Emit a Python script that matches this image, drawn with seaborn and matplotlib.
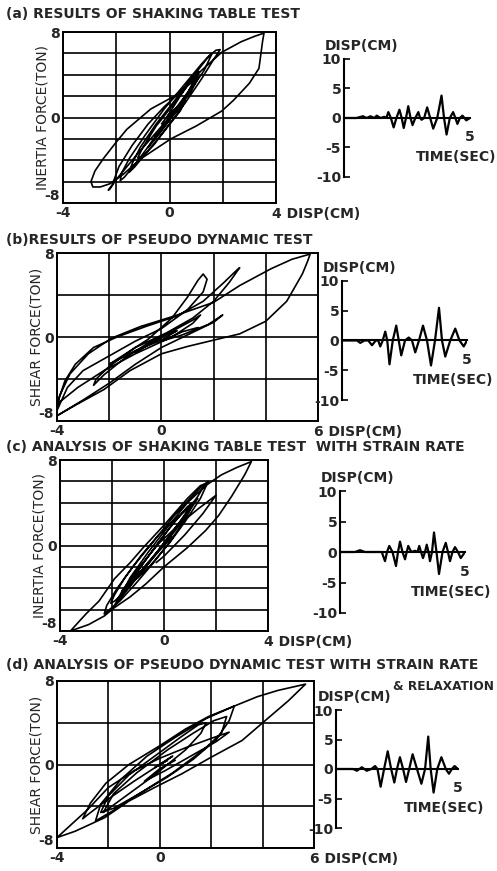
import numpy as np
import seaborn as sns
import matplotlib.pyplot as plt

sns.set_style("white")
plt.rcParams['font.family'] = ['DejaVu Sans']
plt.rcParams['font.weight'] = 'bold'

W, H = 497, 871

# ---- hysteresis loops (disp in cm, force in ton) ----
A_DISP = [0.0, 0.3, 0.0, -0.3, -0.1, 0.4, 0.6,
          0.4, -0.3, -0.9, -1.3, -1.5, -1.4, -1.1, -0.5, 0.2, 0.8, 1.1,
          1.0, 0.6, 0.0, -0.7, -1.3, -1.7, -1.85, -1.8, -1.5, -0.9, -0.2, 0.6, 1.2, 1.5, 1.75, 1.9,
          1.6, 1.2, 0.6, 0.0, -0.6, -1.0, -1.2, -1.0, -0.5, 0.2, 0.8, 1.0,
          0.7, 0.1, -0.1, 0.4, 1.0, 1.4, 1.6,
          1.3, 0.8, 0.2, -0.5, -1.2, -1.7, -2.0, -2.24, -2.3,
          -2.15, -1.9, -1.4, -0.8, -0.2, 0.5, 1.2, 1.96, 2.7, 3.2, 3.55,
          3.5, 3.36, 3.0, 2.4, 1.96, 1.0, 0.05, -1.1, -1.73, -2.24, -2.6, -2.88, -2.95,
          -2.8, -2.5, -2.0, -1.6, -0.7, 0.18, 0.8, 1.1,
          0.8, 0.2, -0.4, -0.8, -0.5, 0.0, 0.3, 0.1]
A_FORCE = [0.0, 0.9, 0.4, -0.6, -0.4, 0.9, 1.6,
           0.6, -1.6, -3.4, -4.6, -5.1, -4.3, -2.8, -0.6, 1.6, 3.6, 4.3,
           3.6, 2.0, -0.2, -2.4, -4.4, -5.6, -5.9, -5.2, -3.8, -1.6, 0.8, 3.2, 5.0, 5.8, 6.3, 6.35,
           5.2, 3.6, 1.4, -0.6, -2.6, -3.6, -3.8, -2.8, -0.8, 1.4, 3.4, 3.8,
           2.4, 0.4, 0.0, 2.0, 4.2, 5.5, 6.0,
           4.4, 2.6, 0.6, -1.4, -3.4, -4.9, -5.8, -6.7, -6.8,
           -6.3, -4.6, -2.6, -0.6, 1.0, 2.6, 4.4, 6.1, 7.1, 7.6, 7.9,
           7.2, 4.6, 3.2, 1.6, 0.6, -0.8, -2.0, -3.9, -5.3, -6.2, -6.5, -6.5, -6.0,
           -5.0, -3.9, -2.3, -1.1, 0.8, 2.0, 3.2, 3.8,
           2.4, 0.4, -1.6, -2.8, -1.6, 0.0, 1.0, 0.5]

B_DISP = [0.0, -0.4, 0.0, -0.9, -0.5, -1.0, -0.2, 0.6, 1.2, 1.5, 1.2, 0.4, -1.0, -2.2, -3.2,
          -4.0, -3.7, -3.3, -2.6, -1.7, -0.6, 0.6, 1.6, 2.4, 2.9, 3.0, 2.6, 2.0, 1.2, 0.2, -1.0,
          -2.0, -2.5, -2.6, -2.2, -1.4, -0.4, 0.4, 0.6, 0.0, -1.0, -2.0, -1.5, -0.5, 0.4, 1.0,
          1.4, 1.6, 1.75, 1.6, 1.0, 0.0, -1.0, -2.0, -3.0, -3.6, -4.0, -3.9, -3.5, -2.8, -1.9,
          -0.8, 0.5, 2.0, 3.0, 4.2, 5.0, 5.7, 5.6, 5.4, 4.8, 4.0, 3.0, 2.0, 1.0, 0.0, -1.2,
          -2.2, -3.3, -4.0, -3.0, -2.0, -1.0, 0.0, 1.0, 2.0, 2.35, 1.8, 0.8, 0.0, 0.8, 1.4]
B_FORCE = [0.0, -0.6, -0.1, -1.3, -0.7, -1.5, -0.2, 0.8, 1.6, 2.1, 1.3, 0.0, -1.6, -3.2, -4.8,
           -6.4, -4.2, -2.6, -1.0, 0.0, 1.0, 2.0, 3.4, 5.2, 6.4, 6.6, 5.2, 3.4, 1.8, 0.4, -1.0,
           -2.8, -4.0, -4.6, -3.6, -2.0, -0.4, 0.4, 0.6, -0.3, -1.3, -2.6, -1.8, -0.2, 1.8, 3.8,
           5.4, 6.0, 5.5, 4.3, 2.6, 0.8, -0.4, -1.8, -3.2, -4.8, -7.0, -5.6, -3.5, -1.6, -0.1,
           1.0, 2.0, 3.3, 4.9, 6.5, 7.4, 7.9, 7.2, 6.0, 3.4, 1.5, 0.3, -0.3, -0.9, -1.6, -3.2,
           -5.0, -6.5, -7.5, -6.0, -4.4, -2.6, -1.0, 0.2, 1.4, 2.1, 1.2, 0.2, -0.4, 0.5, 0.9]

C_DISP = [0.0, 0.2, -0.1, 0.3, 0.0,
          -0.5, -1.0, -1.5, -1.9, -2.05, -1.9, -1.5, -0.9, -0.2, 0.4, 0.9, 1.05,
          0.8, 0.3, -0.4, -1.1, -1.7, -2.1, -2.3, -2.2, -1.8, -1.2, -0.4, 0.4, 1.0, 1.4, 1.7,
          1.4, 0.8, 0.2, -0.5, -1.0, -1.2, -0.9, -0.3, 0.4, 0.9, 1.1,
          0.8, 0.5, -0.2, -0.9, -1.4, -1.6, -1.2, -0.6, 0.2, 0.9, 1.3,
          0.8, 0.0, -0.8, -1.4, -1.6,
          -1.3, -0.6, 0.1, 0.9, 1.6, 2.2, 2.8, 3.36,
          3.1, 2.6, 2.1, 1.6, 0.9, 0.0, -0.7, -1.3, -1.9, -2.3, -2.9, -3.6,
          -3.0, -2.5, -1.9, -1.3, -0.8, 0.0, 0.9, 1.4, 1.6,
          1.3, 0.6, -0.2, -0.9, -1.5, -1.9,
          -1.6, -1.0, -0.2, 0.6, 1.3, 2.0,
          1.5, 0.8, 0.0, -0.3]
C_FORCE = [0.0, 0.6, -0.2, 0.8, 0.2,
           -1.4, -2.9, -4.3, -5.2, -5.4, -4.6, -3.0, -1.0, 1.0, 2.4, 3.4, 3.6,
           2.4, 0.6, -1.6, -3.6, -5.2, -6.0, -6.4, -5.6, -4.0, -2.0, 0.4, 2.8, 4.4, 5.4, 6.0,
           4.4, 2.2, 0.2, -1.8, -3.0, -3.3, -2.0, 0.0, 2.2, 3.6, 4.0,
           2.8, 1.8, -0.4, -2.4, -3.8, -4.2, -3.0, -1.0, 1.6, 3.6, 4.4,
           2.6, 0.0, -2.2, -3.8, -4.4,
           -3.0, -0.6, 1.6, 4.0, 5.6, 6.6, 7.3, 7.85,
           6.6, 4.6, 2.8, 1.4, -0.2, -2.0, -3.6, -4.8, -5.8, -6.6, -7.4, -8.0,
           -6.4, -5.2, -3.1, -1.6, -0.2, 1.9, 4.4, 5.6, 5.8,
           4.6, 2.2, -0.4, -2.6, -4.4, -5.6,
           -4.2, -2.2, 0.2, 2.0, 3.4, 4.7,
           3.0, 1.0, -1.0, -1.6]

D_DISP = [0.0, 0.3, -0.2, 0.5, 0.0, -1.0, -2.0, -2.8, -3.0, -2.7, -2.1, -1.2, 0.0, 1.0, 1.9,
          2.9, 2.7, 2.2, 1.3, 0.3, -0.8, -1.8, -2.3, -2.0, -1.2, -0.2, 0.8, 1.5, 1.8, 1.6, 1.0,
          -0.2, -1.2, -2.2, -1.8, -0.9, 0.3, 1.3, 2.1, 2.6, 2.4, 1.7, 0.5, -0.8, -1.8, -2.5,
          -2.3, -1.5, -0.5, 0.6, 1.8, 2.9, 3.8, 4.6, 5.67, 5.0, 4.24, 3.2, 2.0, 0.85, -0.2,
          -1.2, -2.15, -3.3, -4.0, -3.6, -2.8, -2.0, -1.0, 0.0, 1.0, 2.0, 2.7, 2.2, 1.2, 0.2,
          -0.6, 0.0, 0.6]
D_FORCE = [0.0, 0.4, -0.3, 0.8, 0.0, -1.6, -3.3, -4.8, -5.2, -3.7, -1.8, 0.0, 1.8, 3.4, 4.6,
           5.6, 4.2, 2.4, 0.5, -1.2, -2.8, -4.2, -4.6, -3.0, -1.0, 0.8, 2.6, 3.8, 4.0, 3.0, 1.4,
           -1.0, -2.8, -4.6, -2.8, -0.8, 1.4, 3.0, 4.2, 4.6, 3.0, 1.4, -0.8, -2.8, -4.4, -5.4,
           -3.8, -1.4, 0.8, 2.6, 4.4, 5.6, 6.5, 7.1, 7.7, 6.1, 4.5, 2.3, 0.7, -0.9, -2.2,
           -3.5, -5.1, -6.4, -7.0, -6.1, -4.3, -2.2, -0.6, 0.6, 1.6, 2.5, 3.1, 2.2, 0.8, -0.6,
           -1.6, -0.4, 0.4]

# ---- displacement time histories (time in sec, disp in cm) ----
TA_TIME = [0, 0.5, 0.75, 0.9, 1.05, 1.2, 1.3, 1.45, 1.6, 1.68, 1.76, 1.86, 1.97, 2.08, 2.2,
           2.29, 2.37, 2.46, 2.55, 2.64, 2.72, 2.83, 2.95, 3.02, 3.08, 3.18, 3.3, 3.42, 3.54,
           3.7, 3.87, 3.97, 4.07, 4.2, 4.33, 4.42, 4.5, 4.6, 4.7, 4.78, 4.85, 5.0]
TA_DISP = [0, 0, 0.3, 0, 0.3, 0, 0.4, 0, 0.2, 0, 1.0, 0, -1.6, 0, 1.4, 0, -1.7, 0, 2.0, 0,
           -1.2, 0, 1.0, 0, -0.3, 0, 1.8, 0, -1.8, 0, 3.8, 0, -2.8, 0, 1.0, 0, -1.0, 0, 0.4, 0,
           -0.4, 0]

TB_TIME = [0, 0.4, 0.6, 0.73, 0.9, 1.05, 1.2, 1.35, 1.45, 1.53, 1.63, 1.73, 1.81, 1.9, 2.03,
           2.17, 2.27, 2.37, 2.52, 2.67, 2.8, 2.93, 3.08, 3.24, 3.4, 3.56, 3.72, 3.88, 4.0,
           4.13, 4.33, 4.53, 4.7, 4.87, 5.0]
TB_DISP = [0, 0, 0, -0.4, 0, 0, -0.8, 0, 0, -1.0, 0, 1.5, 0, -4.0, 0, 2.5, 0, -2.5, 0, 0.5,
           0, -2.0, 0, 2.5, 0, -4.2, 0, 5.5, 0, -2.7, 0, 2.0, 0, -1.0, 0]

TC_TIME = [0, 0.6, 0.8, 1.0, 1.67, 1.8, 1.88, 1.97, 2.1, 2.24, 2.32, 2.4, 2.5, 2.6, 2.67,
           2.73, 2.85, 3.0, 3.1, 3.17, 3.24, 3.32, 3.4, 3.47, 3.54, 3.6, 3.68, 3.76, 3.86,
           3.96, 4.1, 4.23, 4.32, 4.4, 4.5, 4.6, 4.72, 4.83, 5.0]
TC_DISP = [0, 0, 0.3, 0, 0, -1.5, 0, 1.0, 0, -2.3, 0, 1.7, 0, -1.2, 0, 1.0, 0, 0.2, 0, 1.0,
           0, -1.0, 0, 1.2, 0, -1.5, 0, 3.2, 0, -3.6, 0, 1.5, 0, -1.5, 0, 0.8, 0, -1.0, 0]

TD_TIME = [0, 0.7, 0.86, 0.96, 1.06, 1.16, 1.26, 1.45, 1.6, 1.7, 1.83, 1.97, 2.12, 2.26,
           2.39, 2.5, 2.62, 2.75, 2.87, 3.0, 3.14, 3.32, 3.5, 3.65, 3.78, 3.88, 4.0, 4.15,
           4.32, 4.5, 4.63, 4.75, 4.86, 5.0]
TD_DISP = [0, 0, -0.3, 0, 0.3, 0, -0.3, 0, 0.5, 0, -3.0, 0, 3.0, 0, -2.3, 0, 2.0, 0, -2.2, 0,
           2.5, 0, -2.5, 0, 5.5, 0, -4.0, 0, 2.0, 0, -0.8, 0, 0.5, 0]

TITLES = ["(a) RESULTS OF SHAKING TABLE TEST",
          "(b)RESULTS OF PSEUDO DYNAMIC TEST",
          "(c) ANALYSIS OF SHAKING TABLE TEST  WITH STRAIN RATE",
          "(d) ANALYSIS OF PSEUDO DYNAMIC TEST WITH STRAIN RATE"]
YLABELS = ["INERTIA FORCE(TON)", "SHEAR FORCE(TON)", "INERTIA FORCE(TON)", "SHEAR FORCE(TON)"]

FS = 10
fig = plt.figure(figsize=(W / 100, H / 100), dpi=100)


def box(x0, y0, x1, y1):
    return [x0 / W, 1 - y1 / H, (x1 - x0) / W, (y1 - y0) / H]


def draw_loop(rect, disp, force, xmax, ystep, ylabel):
    ax = fig.add_axes(rect)
    sns.lineplot(x=disp, y=force, sort=False, estimator=None, color='black',
                 linewidth=1.2, ax=ax)
    ax.set_xlim(-4, xmax)
    ax.set_ylim(-8, 8)
    xt = np.arange(-4, xmax + 1, 2)
    ax.set_xticks(xt)
    ax.set_xticklabels([str(v) if v in (-4, 0) else '' for v in xt])
    yt = np.arange(-8, 9, ystep)
    ax.set_yticks(yt)
    ax.set_yticklabels([str(v) if v in (0, 8) else '' for v in yt])
    ax.grid(True, color='black', linewidth=1.2)
    ax.tick_params(length=0, pad=2, labelsize=FS)
    ax.set_ylabel(ylabel, fontsize=FS, labelpad=1)
    for s in ax.spines.values():
        s.set_color('black')
        s.set_linewidth(1.4)
    # "-8" sits just above the "-4" at the lower-left corner, as in the scan
    ax.annotate("-8", xy=(0, 0), xycoords='axes fraction', xytext=(-2, 0),
                textcoords='offset points', ha='right', va='bottom', fontsize=FS)
    ax.annotate(f"{xmax} DISP(CM)", xy=(1, 0), xycoords='axes fraction',
                xytext=(-3, -3), textcoords='offset points', ha='left', va='top', fontsize=FS)
    return ax


def draw_history(rect, t, d):
    ax = fig.add_axes(rect)
    ax.patch.set_alpha(0)
    sns.lineplot(x=t, y=d, sort=False, estimator=None, color='black', linewidth=1.6, ax=ax)
    ax.set_xlim(0, 5)
    ax.set_ylim(-10, 10)
    ax.spines['bottom'].set_position(('data', 0))
    ax.spines['top'].set_visible(False)
    ax.spines['right'].set_visible(False)
    for s in ('left', 'bottom'):
        ax.spines[s].set_color('black')
        ax.spines[s].set_linewidth(1.5)
    ax.set_xticks([5])
    ax.set_xticklabels([''])
    ax.tick_params(axis='x', direction='inout', length=7, width=1.4)
    ax.set_yticks([-10, -5, 0, 5, 10])
    ax.set_yticklabels(['-10', '-5', '0', '5', '10'])
    ax.tick_params(axis='y', direction='in', length=4, width=1.4, labelsize=FS, pad=2, left=True)
    ax.text(5, -3.2, '5', ha='center', va='center', fontsize=FS)
    ax.text(-0.75, 12.2, 'DISP(CM)', ha='left', va='center', fontsize=FS)
    ax.text(4.45, -6.6, 'TIME(SEC)', ha='center', va='center', fontsize=FS)
    return ax


draw_loop(box(63, 32, 276, 203), A_DISP, A_FORCE, 4, 2, YLABELS[0])
draw_loop(box(57, 253, 318, 421), B_DISP, B_FORCE, 6, 4, YLABELS[1])
draw_loop(box(60, 460, 268, 631), C_DISP, C_FORCE, 4, 2, YLABELS[2])
draw_loop(box(57, 681, 314, 848), D_DISP, D_FORCE, 6, 4, YLABELS[3])

draw_history(box(344, 59, 470, 177), TA_TIME, TA_DISP)
draw_history(box(342, 281, 467, 400), TB_TIME, TB_DISP)
draw_history(box(340, 491, 465, 613), TC_TIME, TC_DISP)
draw_history(box(336, 710, 458, 828), TD_TIME, TD_DISP)

for title, ypix in zip(TITLES, [14, 240, 447, 665]):
    fig.text(6 / W, 1 - ypix / H, title, ha='left', va='center', fontsize=FS)
fig.text(393 / W, 1 - 686 / H, "& RELAXATION", ha='left', va='center', fontsize=8.7)

fig.savefig("out.png", dpi=100, facecolor='white')
